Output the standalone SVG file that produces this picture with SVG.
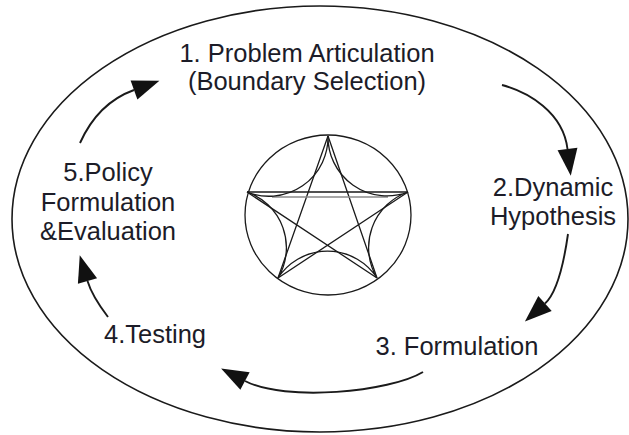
<svg xmlns="http://www.w3.org/2000/svg" width="629" height="435" viewBox="0 0 629 435">
<style>
.lbl{font-family:"Liberation Sans",Arial,sans-serif;font-size:25.5px;fill:#1c1c28;text-anchor:middle}
.ln{fill:none;stroke:#1a1a1a;stroke-width:1.6}
.arr{fill:none;stroke:#1a1a1a;stroke-width:1.9}
.st{fill:none;stroke:#1a1a1a;stroke-width:1.3}
</style>
<defs>
<marker id="ah" markerUnits="userSpaceOnUse" markerWidth="30" markerHeight="22" refX="0" refY="10" orient="auto" overflow="visible">
<path d="M0,0 L27,10 L0,20 Z" fill="#111"/>
</marker>
</defs>
<rect width="629" height="435" fill="#fff"/>
<g id="outer">
<ellipse class="ln" cx="320" cy="219" rx="308" ry="213"/>
</g>
<g id="center-symbol">
<ellipse class="st" cx="328" cy="215" rx="83" ry="80"/>
<path class="st" d="M328,136 L278,278 M328,136 L377,278 M247,192 L408,192 M247,192 L377,278 M408,192 L278,278"/>
<path d="M272,197 L388,197" fill="none" stroke="#8a8a8a" stroke-width="1.4"/>
<path class="st" d="M328,136 A59,59 0 0 0 408,192 A59,59 0 0 0 377,278 A59,59 0 0 0 278,278 A59,59 0 0 0 247,192 A59,59 0 0 0 328,136"/>
</g>
<g id="n1">
<text class="lbl" x="307" y="62">1. Problem Articulation</text>
<text class="lbl" x="307" y="90">(Boundary Selection)</text>
</g>
<g id="n2">
<text class="lbl" x="553" y="196">2.Dynamic</text>
<text class="lbl" x="553" y="225">Hypothesis</text>
</g>
<g id="n3">
<text class="lbl" x="457" y="355">3. Formulation</text>
</g>
<g id="n4">
<text class="lbl" x="155" y="343">4.Testing</text>
</g>
<g id="n5">
<text class="lbl" x="108" y="181">5.Policy</text>
<text class="lbl" x="108" y="210.5">Formulation</text>
<text class="lbl" x="108" y="240">&amp;Evaluation</text>
</g>
<g id="connectors">
<path class="arr" marker-end="url(#ah)" d="M502,85 C528,92 563,112 567.5,149"/>
<path class="arr" marker-end="url(#ah)" d="M568,234 Q560,290 545,303.5"/>
<path class="arr" marker-end="url(#ah)" d="M423,372 C390,392 285,402 245,381"/>
<path class="arr" marker-end="url(#ah)" d="M108,317 Q92,296 87.5,281"/>
<path class="arr" marker-end="url(#ah)" d="M80,143 Q98,103 134,90"/>
</g>
</svg>
